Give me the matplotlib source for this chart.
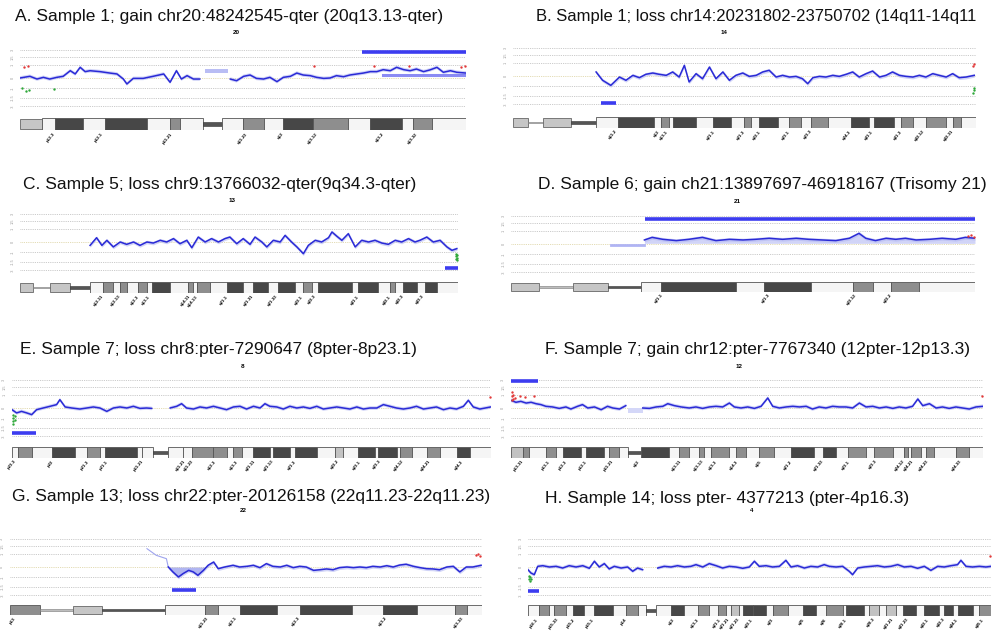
import numpy as np
import matplotlib
matplotlib.use('Agg')
import matplotlib.pyplot as plt
from matplotlib.patches import Rectangle

plt.rcParams['font.family'] = ['Liberation Sans', 'DejaVu Sans']

NAN = np.nan
W, H = 992, 632

# ---------------- data (Mb positions, log ratios) ----------------
grid_levels = [2.15, 1.6, 1.0, 0.0, -0.77, -1.54, -2.15]
grid_labels = ['3', '1.5', '1', '0', '-1', '-1.5', '-3']

# A. chr20
a_title = 'A. Sample 1; gain chr20:48242545-qter (20q13.13-qter)'
a_chrom = '20'
a_len = 63.0
a_pos = [0.0, 1.4, 2.4, 3.3, 4.2, 5.2, 6.1, 7.1, 7.8, 8.5, 9.2, 9.9, 11.3, 12.7, 13.7, 14.6,
         15.1, 16.0, 17.4, 18.8, 20.3, 21.2, 22.1, 22.8, 23.6, 24.5, 25.4, 26.5, 29.7, 30.6,
         31.6, 32.5, 33.4, 34.4, 35.3, 36.3, 37.2, 38.2, 39.1, 40.0, 41.0, 41.9, 42.9, 43.8,
         44.7, 45.7, 46.6, 47.6, 48.5, 49.5, 50.4, 51.3, 52.3, 53.2, 54.2, 55.1, 56.0, 57.0,
         57.9, 58.9, 59.8, 60.8, 61.7, 63.0]
a_val = [0.00, 0.13, -0.08, 0.05, -0.08, 0.05, 0.13, 0.56, 0.31, 0.82, 0.49, 0.56, 0.49, 0.38,
         0.31, -0.08, -0.46, -0.03, -0.03, 0.13, 0.31, -0.33, 0.56, -0.08, 0.18, -0.08, -0.08,
         NAN, -0.08, -0.21, 0.13, 0.23, -0.03, -0.08, 0.05, -0.28, 0.05, 0.13, 0.38, 0.23, 0.18,
         0.05, -0.03, 0.00, 0.18, 0.10, 0.23, 0.31, 0.38, 0.49, 0.49, 0.64, 0.56, 0.82, 0.64,
         0.56, 0.69, 0.49, 0.62, 0.82, 0.44, 0.56, 0.44, 0.38]
a_call = [48.24, 63.0, 2.0]
a_edges = [0, 3.1, 4.9, 8.9, 12.0, 17.9, 21.2, 22.6, 25.9, 28.5, 31.5, 34.4, 37.2, 41.4, 46.4,
           49.5, 54.0, 55.5, 58.2, 63.0]
a_stain = ['h', 'w', 'd', 'w', 'd', 'w', 'm', 'w', 'cen', 'w', 'm', 'w', 'd', 'm', 'w', 'd',
           'w', 'm', 'w']
a_bpos = [4.9, 11.7, 21.5, 32.1, 37.2, 42.0, 51.3, 56.1]
a_bname = ['p12.3', 'p12.1', 'p11.21', 'q11.23', 'q12', 'q13.12', 'q13.2', 'q13.32']
a_red = [[0.6, 0.85], [1.1, 0.95], [41.5, 0.9], [50.0, 0.9], [55.0, 0.95], [62.3, 0.85], [62.8, 0.9]]
a_green = [[0.3, -0.8], [0.8, -1.0], [1.3, -0.9], [4.8, -0.85]]

# B. chr14
b_title = 'B. Sample 1; loss chr14:20231802-23750702 (14q11-14q11'
b_chrom = '14'
b_len = 107.0
b_pos = [19.2, 20.7, 22.6, 24.6, 26.1, 27.7, 29.2, 30.7, 32.3, 33.8, 35.4, 36.9, 38.4, 39.6,
         40.7, 42.3, 43.8, 45.4, 46.9, 48.5, 50.0, 51.5, 53.1, 54.6, 56.2, 57.7, 59.2, 60.8,
         62.3, 63.9, 65.4, 66.9, 68.1, 69.3, 70.8, 72.3, 73.9, 75.4, 77.0, 78.5, 80.0, 81.6,
         83.1, 84.7, 86.2, 87.7, 89.3, 90.8, 92.4, 93.9, 95.4, 97.0, 98.5, 100.1, 101.6, 103.1,
         104.7, 106.6]
b_val = [0.31, -0.33, -0.72, -0.08, -0.33, 0.05, -0.13, 0.13, 0.23, 0.13, 0.05, 0.31, -0.08,
         0.82, -0.46, 0.18, -0.21, 0.69, -0.21, 0.31, -0.33, 0.05, 0.23, -0.03, 0.05, 0.31, 0.44,
         -0.08, 0.05, -0.08, -0.03, -0.21, -0.59, -0.13, -0.03, -0.08, 0.05, -0.03, 0.13, 0.31,
         -0.08, 0.18, 0.38, -0.08, 0.05, 0.31, 0.05, -0.03, -0.08, 0.05, -0.08, 0.18, 0.05, -0.08,
         0.18, -0.13, -0.08, 0.05]
b_call = [20.23, 23.75, -2.05]
b_edges = [0, 3.5, 6.9, 13.4, 19.2, 24.3, 32.6, 34.2, 36.1, 37.0, 42.3, 46.2, 50.4, 53.4, 55.0,
           56.9, 61.2, 63.8, 66.6, 68.9, 72.8, 78.1, 82.3, 83.4, 88.0, 89.7, 92.4, 95.4, 100.1,
           101.7, 103.5, 107]
b_stain = ['h', 'stalk', 'h', 'cen', 'w', 'd', 'w', 'm', 'w', 'd', 'w', 'd', 'w', 'm', 'w', 'd',
           'w', 'm', 'w', 'm', 'w', 'd', 'w', 'd', 'w', 'm', 'w', 'm', 'w', 'm', 'w']
b_bpos = [23.8, 33.7, 35.8, 46.5, 53.4, 57.3, 63.8, 68.9, 78.1, 83.2, 89.7, 95.0, 101.7]
b_bname = ['q11.2', 'q12', 'q13.1', 'q21.1', 'q21.3', 'q22.1', 'q23.1', 'q23.3', 'q24.3',
           'q31.1', 'q31.3', 'q32.12', 'q32.31']
b_red = [[106.6, 0.9], [106.3, 0.8]]
b_green = [[106.6, -0.9], [106.6, -1.1], [106.4, -1.3]]

# C. chr9 (acrocentric ideogram as drawn)
c_title = 'C. Sample 5; loss chr9:13766032-qter(9q34.3-qter)'
c_chrom = '13'
c_len = 115.0
c_pos = [18.4, 20.1, 21.5, 22.8, 24.5, 26.3, 28.0, 29.8, 31.5, 33.3, 35.0, 36.8, 38.5, 40.3,
         42.0, 43.8, 45.1, 46.8, 48.6, 50.3, 52.1, 53.8, 55.1, 56.9, 58.6, 60.4, 61.7, 63.5,
         64.8, 66.5, 68.3, 69.6, 71.3, 72.7, 74.4, 75.7, 77.5, 79.2, 81.0, 81.9, 83.2, 84.5,
         86.2, 88.0, 89.7, 91.5, 93.2, 95.0, 96.7, 98.5, 100.2, 102.0, 103.7, 105.0, 106.8,
         108.5, 110.3, 112.1, 113.4, 114.7]
c_val = [-0.26, 0.33, -0.26, 0.13, -0.38, 0.00, -0.18, 0.00, -0.26, 0.00, -0.08, 0.13, 0.00,
         0.26, -0.13, 0.13, -0.44, 0.38, 0.00, 0.26, 0.00, 0.26, 0.38, -0.13, 0.26, -0.18, 0.38,
         0.00, -0.38, 0.13, 0.00, 0.51, 0.00, -0.38, -0.90, -0.26, 0.13, 0.00, 0.33, 0.77, 0.44,
         0.13, 0.64, -0.38, 0.13, 0.00, 0.13, -0.08, -0.18, 0.13, 0.00, 0.26, 0.00, 0.13, 0.38,
         0.00, 0.13, -0.38, -0.64, -0.51]
c_call = [111.6, 115.0, -1.97]
c_edges = [0, 3.4, 7.9, 13.1, 18.4, 21.8, 24.4, 26.3, 28.1, 31.0, 33.4, 34.7, 39.4, 44.1, 45.4,
           46.5, 49.9, 54.4, 58.6, 61.2, 65.1, 67.8, 72.2, 74.3, 76.7, 78.3, 87.2, 88.8, 94.0,
           97.2, 98.5, 100.6, 104.3, 106.4, 109.5, 115]
c_stain = ['h', 'stalk', 'h', 'cen', 'w', 'm', 'w', 'm', 'w', 'm', 'w', 'd', 'w', 'm', 'w', 'm',
           'w', 'd', 'w', 'd', 'w', 'd', 'w', 'm', 'w', 'd', 'w', 'd', 'w', 'm', 'w', 'd', 'w',
           'd', 'w']
c_bpos = [21.8, 26.3, 31.0, 34.1, 44.6, 46.5, 54.4, 61.2, 67.5, 74.1, 77.5, 88.8, 97.2, 100.6, 105.8]
c_bname = ['q12.11', 'q12.13', 'q12.3', 'q13.1', 'q14.11', 'q14.13', 'q21.1', 'q21.31',
           'q21.33', 'q22.1', 'q22.3', 'q31.1', 'q32.1', 'q32.3', 'q33.3']
c_red = []
c_green = [[114.4, -0.9], [114.4, -1.1], [114.4, -1.3], [114.7, -1.0], [114.7, -1.2], [114.7, -1.4]]

# D. chr21
d_title = 'D. Sample 6; gain ch21:13897697-46918167 (Trisomy 21)'
d_chrom = '21'
d_len = 48.0
d_pos = [13.8, 14.6, 15.7, 17.1, 18.4, 19.8, 21.2, 22.6, 24.0, 25.3, 26.7, 28.1, 29.5, 30.8,
         32.2, 33.6, 35.0, 36.0, 36.7, 37.7, 38.8, 39.8, 40.8, 41.9, 43.3, 44.6, 46.0, 47.0, 48.0]
d_val = [0.31, 0.51, 0.36, 0.26, 0.36, 0.51, 0.26, 0.36, 0.31, 0.36, 0.44, 0.36, 0.44, 0.36,
         0.31, 0.26, 0.44, 0.82, 0.44, 0.26, 0.44, 0.36, 0.44, 0.31, 0.36, 0.44, 0.36, 0.51, 0.44]
d_call = [13.9, 48.0, 1.9]
d_edges = [0, 2.9, 6.4, 10.0, 13.4, 15.5, 23.3, 26.2, 31.0, 35.4, 37.4, 39.3, 42.2, 48]
d_stain = ['h', 'stalk', 'h', 'cen', 'w', 'd', 'w', 'd', 'w', 'm', 'w', 'm', 'w']
d_bpos = [15.7, 26.7, 35.7, 39.4]
d_bname = ['q21.1', 'q21.3', 'q22.12', 'q22.2']
d_red = [[47.3, 0.6], [47.6, 0.7], [47.9, 0.55]]
d_green = []

# E. chr8
e_title = 'E. Sample 7; loss chr8:pter-7290647 (8pter-8p23.1)'
e_chrom = '8'
e_len = 146.0
e_pos = [0.0, 1.4, 2.9, 4.5, 6.0, 7.5, 9.5, 11.6, 13.6, 14.6, 16.2, 18.2, 20.7, 22.8, 24.8,
         26.8, 28.9, 30.9, 32.9, 35.0, 37.0, 39.0, 41.0, 42.6, 45.0, 48.2, 50.2, 51.7, 53.2,
         55.3, 57.3, 59.3, 61.4, 63.4, 65.4, 67.5, 69.5, 71.5, 73.6, 75.6, 77.1, 78.6, 80.7,
         82.7, 84.7, 86.8, 88.8, 90.8, 92.9, 94.9, 96.9, 99.0, 101.0, 103.0, 105.1, 107.1,
         109.1, 111.2, 113.2, 115.2, 117.2, 119.3, 121.3, 123.3, 125.4, 127.4, 129.4, 131.5,
         133.5, 135.5, 137.6, 139.1, 140.6, 142.6, 145.9]
e_val = [-0.13, -0.38, -0.26, -0.38, -0.51, -0.13, 0.00, 0.13, 0.26, 0.64, 0.08, 0.00, -0.08,
         0.00, 0.08, 0.00, -0.26, 0.00, 0.08, 0.00, 0.13, -0.03, 0.00, -0.03, NAN,
         0.00, 0.13, 0.33, 0.00, -0.08, 0.08, 0.00, 0.13, 0.00, -0.13, 0.08, 0.13, -0.08, 0.13,
         0.00, 0.33, 0.13, 0.08, -0.08, 0.13, 0.00, 0.08, -0.03, 0.13, -0.08, 0.00, 0.08, 0.00,
         -0.08, 0.08, -0.08, 0.00, 0.00, 0.26, 0.13, 0.00, -0.08, 0.00, 0.13, -0.08, 0.00, 0.08,
         -0.13, 0.00, -0.08, 0.13, 0.59, 0.08, -0.08, 0.08]
e_call = [0.0, 7.29, -1.92]
e_edges = [0, 1.8, 6.1, 12.2, 19.2, 22.9, 26.8, 28.3, 38.1, 39.6, 43.0, 47.5, 52.1, 54.9, 61.3,
           65.5, 67.4, 70.1, 73.5, 78.6, 79.6, 84.7, 86.3, 93.0, 98.4, 100.9, 105.5, 110.6,
           111.6, 117.3, 118.3, 121.9, 126.5, 130.5, 135.6, 139.6, 146]
e_stain = ['w', 'm', 'w', 'd', 'w', 'm', 'w', 'd', 'w', 'w', 'cen', 'w', 'w', 'm', 'm', 'w',
           'm', 'w', 'd', 'w', 'd', 'w', 'd', 'w', 'l', 'w', 'd', 'w', 'd', 'w', 'm', 'w', 'm',
           'w', 'd', 'w']
e_bpos = [0.9, 12.5, 23.2, 29.0, 39.9, 52.7, 55.2, 61.9, 68.6, 74.1, 79.6, 86.3, 99.4, 106.1,
          112.2, 119.2, 127.4, 137.2]
e_bname = ['p23.3', 'p22', 'p21.3', 'p21.1', 'p11.21', 'q11.21', 'q11.23', 'q12.3', 'q13.3',
           'q21.11', 'q21.13', 'q21.3', 'q22.2', 'q23.1', 'q23.3', 'q24.12', 'q24.21', 'q24.3']
e_red = [[145.6, 0.85]]
e_green = [[0.4, -0.5], [0.4, -0.75], [0.4, -1.0], [0.4, -1.25], [0.8, -0.6], [0.8, -0.9]]

# F. chr12
f_title = 'F. Sample 7; gain chr12:pter-7767340 (12pter-12p13.3)'
f_chrom = '12'
f_len = 134.0
f_pos = [0.0, 1.4, 2.8, 4.3, 5.7, 7.1, 8.5, 9.9, 11.8, 13.7, 15.6, 17.0, 18.9, 20.3, 21.8,
         23.7, 25.6, 27.4, 28.9, 30.8, 32.6, 35.0, 37.4, 39.3, 41.2, 43.1, 44.5, 46.4, 48.3,
         50.6, 52.5, 54.4, 56.3, 58.2, 60.1, 62.0, 63.4, 65.3, 67.2, 69.1, 71.0, 72.9, 74.3,
         76.2, 78.1, 80.0, 81.9, 83.8, 85.6, 87.5, 89.4, 91.3, 93.2, 95.1, 97.0, 98.9, 100.8,
         102.7, 104.6, 106.5, 108.4, 110.2, 112.1, 114.0, 115.5, 116.9, 118.8, 120.7, 122.5,
         124.4, 126.3, 128.2, 130.1, 132.0, 134.0]
f_val = [0.59, 0.44, 0.51, 0.38, 0.44, 0.33, 0.26, 0.13, 0.08, -0.03, 0.08, -0.08, 0.13, 0.26,
         0.00, 0.08, -0.13, 0.13, 0.00, -0.08, 0.18, NAN,
         0.00, -0.03, 0.08, 0.13, 0.33, 0.18, 0.08, 0.00, 0.08, -0.03, 0.08, 0.13, 0.08, 0.38,
         0.08, 0.00, 0.08, -0.03, 0.13, 0.77, 0.13, 0.00, 0.08, 0.13, 0.08, 0.13, -0.08, 0.08,
         0.00, 0.13, 0.08, 0.08, 0.00, 0.38, 0.08, 0.13, 0.00, 0.08, -0.03, 0.08, 0.00, 0.13,
         0.69, 0.18, 0.33, 0.00, 0.08, -0.03, 0.08, 0.00, -0.08, 0.08, 0.13]
f_call = [0.0, 7.77, 2.05]
f_edges = [0, 3.4, 5.1, 9.9, 12.8, 14.8, 19.9, 21.3, 26.4, 27.8, 30.7, 33.2, 36.9, 44.9, 47.7,
           50.5, 53.4, 54.8, 56.8, 61.9, 63.9, 66.7, 70.4, 74.7, 79.5, 86.0, 88.6, 92.3, 95.7,
           100.8, 103.1, 108.5, 111.6, 112.6, 113.6, 116.4, 117.8, 120.1, 126.3, 130.0, 134]
f_stain = ['l', 'm', 'w', 'm', 'w', 'd', 'w', 'd', 'w', 'm', 'w', 'cen', 'd', 'w', 'm', 'w',
           'm', 'w', 'm', 'w', 'm', 'w', 'm', 'w', 'd', 'w', 'd', 'w', 'm', 'w', 'm', 'w', 'm',
           'w', 'm', 'w', 'm', 'w', 'm', 'w']
f_bpos = [3.4, 10.8, 15.6, 21.3, 29.0, 36.3, 48.3, 54.5, 58.2, 64.4, 71.0, 79.5, 88.6, 96.0,
          103.6, 111.6, 114.1, 118.4, 127.8]
f_bname = ['p13.31', 'p13.1', 'p12.3', 'p12.1', 'p11.21', 'q12', 'q13.11', 'q13.13', 'q13.3',
           'q14.3', 'q15', 'q21.2', 'q21.33', 'q23.1', 'q23.3', 'q24.12', 'q24.21', 'q24.23',
           'q24.33']
f_red = [[0.3, 0.6], [0.3, 0.9], [0.3, 1.2], [0.7, 0.7], [0.7, 1.0], [1.2, 0.8], [2.5, 0.9],
         [4.0, 0.85], [6.5, 0.9], [133.6, 0.9]]
f_green = []

# G. chr22
g_title = 'G. Sample 13; loss chr22:pter-20126158 (22q11.23-22q11.23)'
g_chrom = '22'
g_len = 51.0
g_faint_pos = [14.8, 15.8, 16.9, 17.1]
g_faint_val = [1.41, 0.90, 0.64, 0.00]
g_pos = [17.1, 17.6, 18.2, 18.7, 19.3, 19.8, 20.3, 20.9, 21.4, 22.0, 22.5, 23.2, 24.1, 24.8,
         25.6, 26.3, 27.0, 27.7, 28.4, 29.2, 29.9, 30.6, 31.3, 32.0, 32.8, 33.5, 34.2, 34.9,
         35.6, 36.4, 37.1, 37.8, 38.5, 39.2, 40.0, 40.7, 41.4, 42.1, 42.8, 43.6, 44.3, 45.0,
         45.7, 46.4, 47.2, 47.9, 48.6, 49.3, 50.0, 50.9]
g_val = [0.00, -0.38, -0.77, -0.51, -0.26, -0.38, -0.64, -0.26, 0.13, 0.38, -0.13, 0.00, 0.13,
         0.00, 0.05, 0.13, -0.05, 0.26, 0.05, 0.00, 0.13, -0.05, 0.05, 0.00, -0.26, -0.21, -0.15,
         -0.21, -0.05, 0.00, -0.05, 0.00, -0.05, 0.05, 0.00, 0.10, 0.00, 0.15, 0.21, 0.05, -0.05,
         -0.13, -0.15, -0.21, 0.00, 0.05, -0.38, 0.00, 0.00, 0.13]
g_call = [17.5, 20.13, -1.8]
g_edges = [0, 3.2, 6.8, 9.9, 16.7, 21.1, 22.5, 24.8, 28.8, 31.3, 36.9, 40.3, 44.0, 48.1, 49.4, 51]
g_stain = ['m', 'stalk', 'h', 'cen', 'w', 'm', 'w', 'd', 'w', 'd', 'w', 'd', 'w', 'm', 'w']
g_bpos = [0.5, 21.4, 24.5, 31.3, 40.7, 48.9]
g_bname = ['p13', 'q11.23', 'q12.1', 'q12.3', 'q13.2', 'q13.33']
g_red = [[50.3, 0.9], [50.6, 1.0], [50.8, 0.85]]
g_green = []

# H. chr4
h_title = 'H. Sample 14; loss pter- 4377213 (pter-4p16.3)'
h_chrom = '4'
h_len = 191.0
h_pos = [0.0, 1.2, 2.6, 4.0, 6.1, 8.8, 11.6, 14.3, 17.0, 19.8, 22.6, 25.3, 27.4, 29.4, 31.5,
         33.5, 35.6, 38.4, 41.1, 43.2, 45.2, 47.3, 50.0, 53.5, 56.2, 59.0, 61.7, 64.5, 67.2,
         69.3, 72.1, 74.8, 77.6, 80.3, 83.0, 85.8, 88.6, 91.3, 93.4, 95.4, 98.2, 100.9, 103.7,
         106.4, 108.5, 111.2, 114.0, 116.7, 119.5, 122.2, 124.3, 127.1, 129.8, 132.5, 133.9,
         136.0, 138.7, 141.5, 144.2, 147.0, 149.7, 152.5, 155.2, 158.0, 160.7, 163.5, 166.2,
         169.0, 171.7, 174.5, 177.2, 178.6, 180.7, 183.4, 186.2, 188.9, 191.0]
h_val = [-0.21, -0.46, -0.59, 0.05, 0.10, 0.00, 0.05, -0.08, 0.10, 0.00, 0.10, -0.10, 0.44,
         0.00, 0.26, -0.15, 0.05, -0.08, 0.00, -0.33, -0.08, -0.21, NAN,
         -0.08, 0.05, 0.00, 0.10, 0.00, 0.05, 0.18, 0.00, 0.26, 0.10, -0.08, 0.05, 0.00, -0.10,
         0.00, 0.44, 0.05, 0.10, 0.00, 0.05, 0.51, 0.00, 0.10, -0.08, 0.05, 0.00, 0.18, 0.05,
         0.00, 0.05, -0.33, -0.59, -0.08, 0.00, 0.05, 0.10, 0.00, 0.05, 0.18, 0.00, 0.05, -0.10,
         0.05, -0.26, 0.05, 0.00, 0.10, 0.18, 0.51, 0.05, 0.00, 0.05, 0.00, 0.05]
h_call = [0.0, 4.38, -1.87]
h_edges = [0, 4.5, 8.7, 10.7, 15.7, 18.6, 23.1, 27.2, 35.1, 40.4, 45.4, 48.7, 52.8, 59.0, 64.4,
           70.1, 74.7, 78.4, 81.7, 83.7, 87.0, 88.7, 92.8, 98.2, 101.1, 107.3, 113.4, 118.8,
           122.9, 129.9, 131.2, 138.6, 140.7, 144.8, 147.7, 151.8, 154.7, 160.1, 163.4, 169.5,
           171.6, 175.3, 177.4, 183.6, 186.0, 191]
h_stain = ['w', 'm', 'w', 'm', 'w', 'd', 'w', 'd', 'w', 'm', 'w', 'cen', 'w', 'd', 'w', 'm',
           'w', 'm', 'w', 'l', 'w', 'd', 'd', 'w', 'm', 'w', 'd', 'w', 'm', 'w', 'd', 'w', 'l',
           'w', 'l', 'w', 'd', 'w', 'd', 'w', 'd', 'w', 'd', 'w', 'm']
h_bpos = [4.1, 12.4, 19.0, 27.2, 40.4, 60.2, 70.5, 79.6, 82.9, 87.0, 92.8, 101.1, 113.9, 122.9,
          131.2, 142.7, 150.6, 156.8, 165.4, 171.6, 177.4, 187.7]
h_bname = ['p16.1', 'p15.33', 'p15.2', 'p15.1', 'p14', 'q12', 'q13.3', 'q21.1', 'q21.21',
           'q21.23', 'q22.1', 'q23', 'q25', 'q26', 'q28.1', 'q28.3', 'q31.21', 'q31.23',
           'q32.1', 'q32.3', 'q34.1', 'q35.1']
h_red = [[190.6, 0.85]]
h_green = [[0.4, -0.7], [0.4, -0.95], [0.8, -0.8], [0.8, -1.1], [1.3, -0.9]]

panels = [
    dict(title=a_title, chrom=a_chrom, length=a_len, pos=a_pos, val=a_val, call=a_call,
         edges=a_edges, stain=a_stain, bpos=a_bpos, bname=a_bname, red=a_red, green=a_green),
    dict(title=b_title, chrom=b_chrom, length=b_len, pos=b_pos, val=b_val, call=b_call,
         edges=b_edges, stain=b_stain, bpos=b_bpos, bname=b_bname, red=b_red, green=b_green),
    dict(title=c_title, chrom=c_chrom, length=c_len, pos=c_pos, val=c_val, call=c_call,
         edges=c_edges, stain=c_stain, bpos=c_bpos, bname=c_bname, red=c_red, green=c_green),
    dict(title=d_title, chrom=d_chrom, length=d_len, pos=d_pos, val=d_val, call=d_call,
         edges=d_edges, stain=d_stain, bpos=d_bpos, bname=d_bname, red=d_red, green=d_green),
    dict(title=e_title, chrom=e_chrom, length=e_len, pos=e_pos, val=e_val, call=e_call,
         edges=e_edges, stain=e_stain, bpos=e_bpos, bname=e_bname, red=e_red, green=e_green),
    dict(title=f_title, chrom=f_chrom, length=f_len, pos=f_pos, val=f_val, call=f_call,
         edges=f_edges, stain=f_stain, bpos=f_bpos, bname=f_bname, red=f_red, green=f_green),
    dict(title=g_title, chrom=g_chrom, length=g_len, pos=g_pos, val=g_val, call=g_call,
         edges=g_edges, stain=g_stain, bpos=g_bpos, bname=g_bname, red=g_red, green=g_green),
    dict(title=h_title, chrom=h_chrom, length=h_len, pos=h_pos, val=h_val, call=h_call,
         edges=h_edges, stain=h_stain, bpos=h_bpos, bname=h_bname, red=h_red, green=h_green),
]

# pixel layout: title x,y,size / chrom label x,y / plot x0,x1,centre y / ideogram top,bottom
layout = [
    (15, 17, 12.5, 236, 33, 20, 466, 78, 118, 130),
    (536, 17, 12.0, 724, 32, 513, 976, 76, 117, 128),
    (23, 184, 12.5, 232, 200, 20, 458, 242, 282, 293),
    (538, 184, 12.5, 737, 202, 511, 975, 244, 282, 292),
    (20, 350, 12.5, 243, 367, 12, 491, 408, 447, 458),
    (545, 350, 12.5, 739, 367, 511, 983, 408, 447, 458),
    (12, 497, 12.5, 243, 511, 10, 482, 567, 605, 615),
    (545, 498, 12.5, 752, 511, 528, 991, 567, 605, 616),
]

stain_col = {'w': '#f5f5f5', 'l': '#c2c2c2', 'm': '#8e8e8e', 'd': '#474747', 'h': '#c6c6c6'}
trace_col = '#2a2ad6'
band_col = '#b3b8f2'


def px_axes(fig, x0, y0, x1, y1):
    return fig.add_axes([x0 / W, 1 - y1 / H, (x1 - x0) / W, (y1 - y0) / H])


fig = plt.figure(figsize=(W / 100, H / 100), dpi=100)
fig.patch.set_facecolor('white')

for i, (p, lay) in enumerate(zip(panels, layout)):
    tx, ty, tsize, lx, ly, x0, x1, cy, it, ib = lay
    fig.text(tx / W, 1 - ty / H, p['title'], fontsize=tsize, ha='left', va='center', color='#111111')
    fig.text(lx / W, 1 - ly / H, p['chrom'], fontsize=4.5, fontweight='bold', ha='center', va='center')

    ax = px_axes(fig, x0, cy - 32.5, x1, cy + 32.5)
    ax.set_xlim(0, p['length'])
    ax.set_ylim(-2.5, 2.5)
    ax.axis('off')
    for g, lab in zip(grid_levels, grid_labels):
        c = '#d9cf9a' if g == 0 else '#b9b9b9'
        ax.axhline(g, color=c, lw=0.6, ls=(0, (1, 1.2)), zorder=1)
        ax.text(-0.012, g, lab, transform=ax.get_yaxis_transform(), fontsize=2.8,
                color='#9a9a9a', rotation=90, ha='right', va='center')

    x = np.array(p['pos'])
    y = np.array(p['val'])
    ax.fill_between(x, y - 0.14, y + 0.14, color=band_col, alpha=0.6, lw=0, zorder=2)
    if i == 3:
        ax.fill_between(x, 0.05, y, color=band_col, alpha=0.6, lw=0, zorder=2)
    if i == 6:
        ax.fill_between(x, 0, y, where=x < 21.5, color='#8f96ec', alpha=0.7, lw=0, zorder=2)
        ax.plot(g_faint_pos, g_faint_val, color='#9ea4ee', lw=0.8, zorder=2)
    ax.plot(x, y, color=trace_col, lw=1.1, zorder=3)

    s, e, lev = p['call']
    ax.plot([s, e], [lev, lev], color='#3c3cf0', lw=2.6, solid_capstyle='butt', zorder=4)

    if p['red']:
        r = np.array(p['red'])
        ax.scatter(r[:, 0], r[:, 1], s=3, color='#e23a3a', lw=0, zorder=4)
    if p['green']:
        gr = np.array(p['green'])
        ax.scatter(gr[:, 0], gr[:, 1], s=3, color='#2fa83a', lw=0, zorder=4)

    # extra segment marks seen on some panels
    if i == 0:
        ax.add_patch(Rectangle((26.1, 0.38), 3.3, 0.31, fc='#b9bdf4', ec='none', zorder=2))
        ax.plot([51.3, 63.0], [0.23, 0.23], color='#5a5af0', lw=2.2, alpha=0.7, zorder=3)
    if i == 3:
        ax.plot([10.3, 13.8], [-0.08, -0.08], color='#b0b4f4', lw=2.0, zorder=3)
    if i == 5:
        ax.add_patch(Rectangle((33.2, -0.38), 4.2, 0.38, fc='#d4d7f8', ec='none', zorder=2))

    ia = px_axes(fig, x0, it, x1, ib)
    ia.set_xlim(0, p['length'])
    ia.set_ylim(0, 1)
    ia.axis('off')
    for s0, s1, st in zip(p['edges'][:-1], p['edges'][1:], p['stain']):
        if st == 'cen':
            ia.add_patch(Rectangle((s0, 0.36), s1 - s0, 0.28, fc='#555555', ec='#333333', lw=0.4))
        elif st == 'stalk':
            ia.add_patch(Rectangle((s0, 0.44), s1 - s0, 0.12, fc='#bdbdbd', ec='#777777', lw=0.4))
        elif st == 'h':
            ia.add_patch(Rectangle((s0, 0.08), s1 - s0, 0.84, fc=stain_col['h'], ec='#666666', lw=0.6))
        else:
            ia.add_patch(Rectangle((s0, 0.0), s1 - s0, 1.0, fc=stain_col[st], ec='#555555', lw=0.6))
    for bp, bn in zip(p['bpos'], p['bname']):
        ia.text(bp, -0.25, bn, rotation=50, rotation_mode='anchor', ha='right', va='center',
                fontsize=3.2, fontweight='bold', clip_on=False)

fig.savefig('out.png', dpi=100, facecolor='white')
